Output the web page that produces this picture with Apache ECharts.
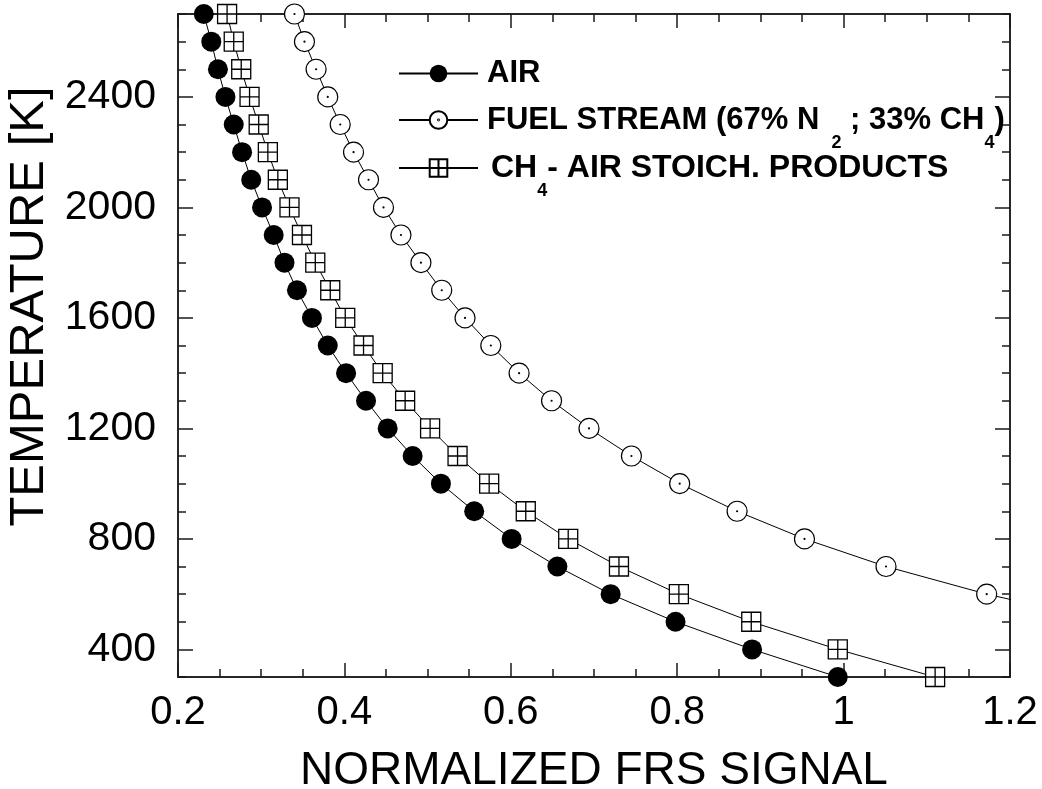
<!DOCTYPE html>
<html><head><meta charset="utf-8">
<script src="https://cdn.jsdelivr.net/npm/echarts@6/dist/echarts.min.js"></script>
<style>html,body{margin:0;padding:0;background:#fff}#c{width:1042px;height:789px}</style>
</head><body><div id="c"></div><script>
// ---- data ----
const temperatures = [2700,2600,2500,2400,2300,2200,2100,2000,1900,1800,1700,1600,1500,1400,1300,1200,1100,1000,900,800,700,600,500,400,300];
const airSignal = [0.231,0.240,0.248,0.257,0.267,0.277,0.288,0.301,0.315,0.328,0.343,0.361,0.380,0.402,0.426,0.452,0.482,0.516,0.556,0.601,0.656,0.720,0.798,0.890,0.993];
const fuelSignal = [0.340,0.352,0.366,0.380,0.395,0.411,0.429,0.447,0.468,0.492,0.517,0.545,0.576,0.610,0.649,0.694,0.745,0.803,0.872,0.953,1.051,1.172,1.32];
const productsSignal = [0.259,0.267,0.276,0.286,0.297,0.308,0.320,0.334,0.349,0.365,0.383,0.401,0.423,0.446,0.473,0.503,0.536,0.574,0.618,0.669,0.730,0.802,0.889,0.993,1.110];
const yTickLabels = [400,800,1200,1600,2000,2400];
const xTickLabels = [0.2,0.4,0.6,0.8,1,1.2];
const seriesNames = ['AIR','FUEL STREAM','CH4 - AIR STOICH. PRODUCTS'];

const FONT = "'Liberation Sans', Arial, sans-serif";
const AX = '#1a1a1a';
const pairs = (xs) => xs.map((x, i) => [x, temperatures[i]]);

function xAxisDef(pos, interval, len, withLabels, withName) {
  const a = {
    type: 'value', position: pos, min: 0.2, max: 1.2, interval: interval,
    axisLine: { show: true, onZero: false, lineStyle: { color: AX, width: 1.5 } },
    axisTick: { show: true, inside: true, length: len, lineStyle: { color: AX, width: 1.5 } },
    axisLabel: { show: false },
    splitLine: { show: false }
  };
  if (withLabels) {
    a.axisLabel = { show: true, customValues: xTickLabels, fontSize: 40, color: '#000', fontFamily: FONT, margin: 16,
      formatter: (v) => String(+(+v).toFixed(2)) };
  }
  if (withName) {
    a.name = 'NORMALIZED FRS SIGNAL';
    a.nameLocation = 'middle';
    a.nameGap = 71;
    a.nameTextStyle = { fontSize: 46, color: '#000', fontFamily: FONT };
  }
  return a;
}
function yAxisDef(pos, major, withLabels, withName) {
  const a = {
    type: 'value', position: pos, min: 300, max: 2700, interval: 100,
    axisLine: { show: true, onZero: false, lineStyle: { color: AX, width: 1.5 } },
    axisTick: { show: true, inside: true, length: major ? 15 : 8, lineStyle: { color: AX, width: 1.5 } },
    axisLabel: { show: false },
    splitLine: { show: false }
  };
  if (major) a.axisTick.customValues = yTickLabels;
  if (withLabels) {
    a.axisLabel = { show: true, customValues: yTickLabels, fontSize: 41, color: '#000', fontFamily: FONT, margin: 22,
      formatter: (v) => String(Math.round(v)) };
  }
  if (withName) {
    a.name = 'TEMPERATURE [K]';
    a.nameLocation = 'middle';
    a.nameGap = 120;
    a.nameTextStyle = { fontSize: 49, color: '#000', fontFamily: FONT, padding: [0, 0, 0, 78] };
  }
  return a;
}

const circleDot = 'path://M0,10A10,10,0,1,1,20,10A10,10,0,1,1,0,10ZM9.5,10A0.5,0.5,0,1,1,10.5,10A0.5,0.5,0,1,1,9.5,10Z';
const squareCross = 'path://M0,0H20V20H0ZM10,0V20M0,10H20';

const rich = {
  t: { fontSize: 31, fontWeight: 'bold', fontFamily: FONT, color: '#000', lineHeight: 31 },
  t0: { fontSize: 31, fontWeight: 'bold', fontFamily: FONT, color: '#000', lineHeight: 31, padding: [0, 0, 0, 4] },
  u: { fontSize: 32, fontWeight: 'bold', fontFamily: FONT, color: '#000', lineHeight: 32 },
  u1: { fontSize: 32, fontWeight: 'bold', fontFamily: FONT, color: '#000', lineHeight: 32, padding: [0, 0, 0, 8] },
  s: { fontSize: 18, fontWeight: 'bold', fontFamily: FONT, color: '#000', lineHeight: 18, padding: [46, 0, 0, 0] },
  s2: { fontSize: 18, fontWeight: 'bold', fontFamily: FONT, color: '#000', lineHeight: 18, padding: [46, 0, 0, 12] }
};
function legendDef(name, top, fmt) {
  return {
    data: [name], left: 398, top: top, orient: 'vertical', padding: 0,
    itemWidth: 79, itemHeight: 22, selectedMode: false,
    formatter: () => fmt,
    textStyle: { rich: rich }
  };
}

const chart = echarts.init(document.getElementById('c'), null, { renderer: 'canvas' });
chart.setOption({
  animation: false,
  backgroundColor: '#fff',
  grid: { left: 178, right: 32, top: 14, bottom: 112, containLabel: false, outerBoundsMode: 'none' },
  xAxis: [
    xAxisDef('bottom', 0.2, 14, true, true),
    xAxisDef('bottom', 0.05, 8, false, false),
    xAxisDef('top', 0.2, 14, false, false),
    xAxisDef('top', 0.05, 8, false, false)
  ],
  yAxis: [
    yAxisDef('left', true, true, true),
    yAxisDef('left', false, false, false),
    yAxisDef('right', true, false, false),
    yAxisDef('right', false, false, false)
  ],
  legend: [
    legendDef(seriesNames[0], 58, '{t0|AIR}'),
    legendDef(seriesNames[1], 88, '{t0|FUEL STREAM (67% N}{s2|2}{t| ; 33% CH}{s|4}{t|)}'),
    legendDef(seriesNames[2], 136, '{u1|CH}{s|4}{u|- AIR STOICH. PRODUCTS}')
  ],
  series: [
    { name: seriesNames[0], type: 'line', data: pairs(airSignal), xAxisIndex: 0, yAxisIndex: 0,
      symbol: 'circle', symbolSize: 20, itemStyle: { color: '#000' },
      lineStyle: { color: '#000', width: 1 }, emphasis: { disabled: true }, z: 3 },
    { name: seriesNames[1], type: 'line', data: pairs(fuelSignal), xAxisIndex: 0, yAxisIndex: 0,
      symbol: circleDot, symbolSize: 20, itemStyle: { color: '#fff', borderColor: '#000', borderWidth: 1.2 },
      lineStyle: { color: '#000', width: 1 }, emphasis: { disabled: true }, z: 3 },
    { name: seriesNames[2], type: 'line', data: pairs(productsSignal), xAxisIndex: 0, yAxisIndex: 0,
      symbol: squareCross, symbolSize: 19, itemStyle: { color: '#fff', borderColor: '#000', borderWidth: 1.3 },
      lineStyle: { color: '#000', width: 1 }, emphasis: { disabled: true }, z: 3 }
  ]
});
</script></body></html>
